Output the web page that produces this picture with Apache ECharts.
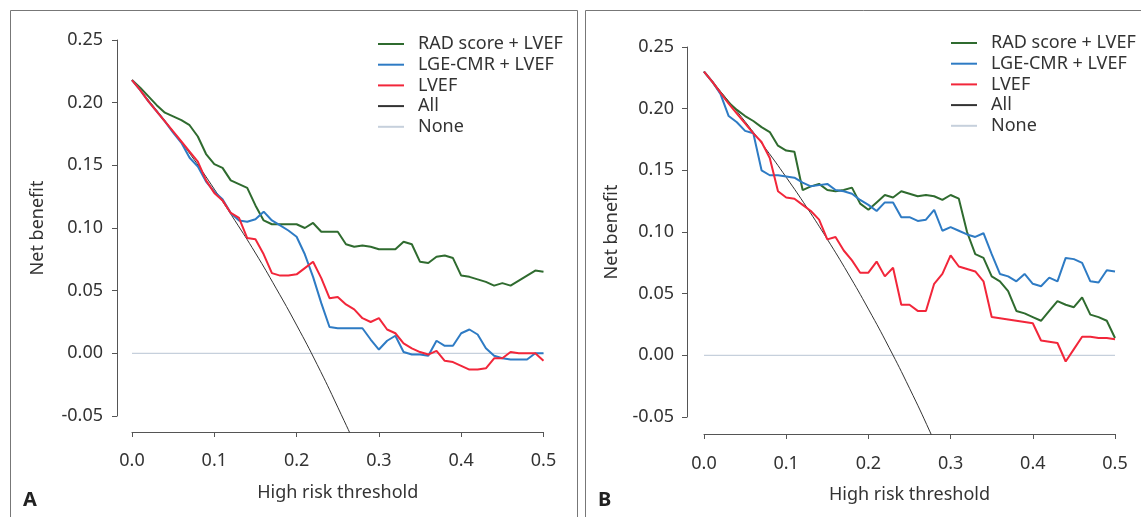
<!DOCTYPE html>
<html>
<head>
<meta charset="utf-8">
<script src="https://cdn.jsdelivr.net/npm/echarts@6/dist/echarts.min.js"></script>
<style>
html,body{margin:0;padding:0;background:#fff;}
#chart{width:1141px;height:517px;}
</style>
</head>
<body>
<div id="chart"></div>
<script>
const seriesNames = ['RAD score + LVEF', 'LGE-CMR + LVEF', 'LVEF', 'All', 'None'];
const xTicks = [0, 0.1, 0.2, 0.3, 0.4, 0.5];
const yTicks = [-0.05, 0, 0.05, 0.10, 0.15, 0.20, 0.25];

const thresholds = [0.00,0.01,0.02,0.03,0.04,0.05,0.06,0.07,0.08,0.09,
  0.10,0.11,0.12,0.13,0.14,0.15,0.16,0.17,0.18,0.19,
  0.20,0.21,0.22,0.23,0.24,0.25,0.26,0.27,0.28,0.29,
  0.30,0.31,0.32,0.33,0.34,0.35,0.36,0.37,0.38,0.39,
  0.40,0.41,0.42,0.43,0.44,0.45,0.46,0.47,0.48,0.49,0.50];
const allThresholds = [0,0.025,0.05,0.075,0.10,0.125,0.15,0.175,0.20,0.225,0.25,0.275,0.30];

// Panel A
const radA = [0.218,0.212,0.205,0.198,0.192,0.189,0.186,0.182,0.173,0.159,
  0.151,0.148,0.138,0.135,0.132,0.118,0.106,0.103,0.103,0.103,
  0.103,0.100,0.104,0.097,0.097,0.097,0.087,0.085,0.086,0.085,
  0.083,0.083,0.083,0.089,0.087,0.073,0.072,0.077,0.078,0.076,
  0.062,0.061,0.059,0.057,0.054,0.056,0.054,0.058,0.062,0.066,0.065];
const lgeA = [0.218,0.210,0.201,0.193,0.185,0.176,0.168,0.156,0.149,0.137,
  0.129,0.123,0.112,0.106,0.105,0.107,0.113,0.106,0.102,0.098,
  0.093,0.079,0.061,0.040,0.021,0.020,0.020,0.020,0.020,0.011,
  0.003,0.010,0.014,0.001,-0.001,-0.001,-0.002,0.010,0.006,0.006,
  0.016,0.019,0.015,0.004,-0.002,-0.004,-0.005,-0.005,-0.005,0.000,0.000];
const lvefA = [0.218,0.210,0.201,0.193,0.185,0.177,0.169,0.161,0.153,0.138,
  0.128,0.122,0.112,0.108,0.092,0.091,0.079,0.064,0.062,0.062,
  0.063,0.068,0.073,0.060,0.044,0.045,0.039,0.035,0.028,0.025,
  0.028,0.019,0.016,0.008,0.004,0.001,-0.001,0.002,-0.006,-0.007,
  -0.010,-0.013,-0.013,-0.012,-0.004,-0.004,0.001,0.000,0.000,0.000,-0.006];
const allA = [0.218,0.198,0.177,0.155,0.131,0.106,0.080,0.052,0.0225,-0.009,-0.043,-0.079,-0.119];

// Panel B
const radB = [0.230,0.222,0.213,0.205,0.199,0.194,0.190,0.185,0.181,0.170,
  0.166,0.165,0.134,0.137,0.139,0.134,0.133,0.134,0.136,0.123,
  0.118,0.124,0.130,0.128,0.133,0.131,0.129,0.130,0.129,0.126,
  0.130,0.127,0.100,0.082,0.079,0.064,0.060,0.052,0.036,0.034,
  0.031,0.028,0.036,0.044,0.041,0.039,0.047,0.033,0.031,0.028,0.014];
const lgeB = [0.230,0.222,0.212,0.194,0.189,0.182,0.180,0.150,0.146,0.146,
  0.145,0.144,0.140,0.137,0.138,0.139,0.134,0.133,0.131,0.126,
  0.122,0.117,0.124,0.124,0.112,0.112,0.109,0.110,0.118,0.101,
  0.104,0.101,0.098,0.096,0.099,0.082,0.066,0.064,0.060,0.066,
  0.058,0.056,0.063,0.060,0.079,0.078,0.075,0.060,0.059,0.069,0.068];
const lvefB = [0.230,0.222,0.213,0.204,0.196,0.188,0.180,0.173,0.160,0.133,
  0.128,0.127,0.122,0.117,0.110,0.094,0.096,0.085,0.077,0.067,
  0.067,0.076,0.064,0.071,0.041,0.041,0.036,0.036,0.058,0.066,
  0.081,0.072,0.070,0.068,0.060,0.031,0.030,0.029,0.028,0.027,
  0.026,0.012,0.011,0.010,-0.005,0.005,0.015,0.015,0.014,0.014,0.013];
const allB = [0.230,0.210,0.1895,0.1676,0.1444,0.120,0.0941,0.0667,0.0375,0.0065,-0.0267,-0.0621,-0.100];
const noneVals = [0, 0];
const noneX = [0, 0.5];

const colors = {
  rad: '#2f6b2f',
  lge: '#2e7bc4',
  lvef: '#f2263a',
  all: '#333333',
  none: '#c6d0dc'
};
const FONT = '"Noto Sans", sans-serif';

function pairs(xs, ys) { return xs.map((x, i) => [x, ys[i]]); }

const chart = echarts.init(document.getElementById('chart'), null, {renderer: 'canvas'});

function axisGrid(left, width, top, height) {
  return {left: left, width: width, top: top, height: height, containLabel: false};
}

const grids = [
  axisGrid(132, 411.5, 40, 376),
  axisGrid(132, 411.5, 40, 392),
  axisGrid(704, 411, 47, 370),
  axisGrid(704, 411, 47, 387)
];

function shownX(gridIndex, offset, labelMargin) {
  return {
    type: 'value', gridIndex: gridIndex, min: 0, max: 0.5, interval: 0.1,
    offset: offset,
    axisLine: {show: true, onZero: false, lineStyle: {color: '#555', width: 1}},
    axisTick: {show: true, length: 5, lineStyle: {color: '#555'}},
    splitLine: {show: false},
    axisLabel: {margin: labelMargin, color: '#333', fontSize: 18, fontFamily: FONT,
      formatter: v => v.toFixed(1)},
    name: 'High risk threshold', nameLocation: 'middle', nameGap: 52,
    nameTextStyle: {color: '#333', fontSize: 18, fontFamily: FONT, verticalAlign: 'top'}
  };
}
function shownY(gridIndex, offset, labelMargin, nameGap) {
  return {
    type: 'value', gridIndex: gridIndex, min: -0.05, max: 0.25, interval: 0.05,
    offset: offset,
    axisLine: {show: true, onZero: false, lineStyle: {color: '#555', width: 1}},
    axisTick: {show: true, length: 5, lineStyle: {color: '#555'}},
    splitLine: {show: false},
    axisLabel: {margin: labelMargin, color: '#333', fontSize: 18, fontFamily: FONT,
      formatter: v => v.toFixed(2)},
    name: 'Net benefit', nameLocation: 'middle', nameGap: nameGap, nameRotate: 90,
    nameTextStyle: {color: '#333', fontSize: 18, fontFamily: FONT}
  };
}
function hiddenX(gridIndex) {
  return {type: 'value', gridIndex: gridIndex, min: 0, max: 0.5, show: false, splitLine: {show: false}};
}
function hiddenY(gridIndex, min) {
  return {type: 'value', gridIndex: gridIndex, min: min, max: 0.25, show: false, splitLine: {show: false}};
}

const xAxes = [shownX(0, 16, 20), hiddenX(1), shownX(2, 17, 21), hiddenX(3)];
const yAxes = [shownY(0, 15, 14, 70), hiddenY(1, -0.0628), shownY(2, 17, 13, 66), hiddenY(3, -0.0638)];

function makeSeries(axisIdx, rad, lge, lvef, all) {
  const base = {type: 'line', xAxisIndex: axisIdx, yAxisIndex: axisIdx, showSymbol: false, symbol: 'none', clip: true, animation: false};
  return [
    Object.assign({}, base, {name: 'None', data: pairs(noneX, noneVals), lineStyle: {color: colors.none, width: 1.2}, itemStyle: {color: colors.none}, z: 1}),
    Object.assign({}, base, {name: 'All', data: pairs(allThresholds, all), smooth: true, lineStyle: {color: colors.all, width: 1}, itemStyle: {color: colors.all}, z: 2}),
    Object.assign({}, base, {name: 'RAD score + LVEF', data: pairs(thresholds, rad), lineStyle: {color: colors.rad, width: 2}, itemStyle: {color: colors.rad}, z: 3}),
    Object.assign({}, base, {name: 'LGE-CMR + LVEF', data: pairs(thresholds, lge), lineStyle: {color: colors.lge, width: 2}, itemStyle: {color: colors.lge}, z: 4}),
    Object.assign({}, base, {name: 'LVEF', data: pairs(thresholds, lvef), lineStyle: {color: colors.lvef, width: 2}, itemStyle: {color: colors.lvef}, z: 5})
  ];
}

function makeLegend(left, top) {
  return {
    orient: 'vertical', left: left, top: top,
    data: seriesNames.map(n => ({name: n, icon: 'rect'})),
    itemWidth: 26, itemHeight: 2, itemGap: 0.7, padding: 0,
    selectedMode: false,
    textStyle: {color: '#333', fontSize: 18, fontFamily: FONT, lineHeight: 20, padding: [0, 0, 0, 9]}
  };
}

const option = {
  backgroundColor: '#fff',
  animation: false,
  grid: grids,
  xAxis: xAxes,
  yAxis: yAxes,
  legend: [makeLegend(378, 34), makeLegend(951, 33)],
  series: [].concat(makeSeries(1, radA, lgeA, lvefA, allA), makeSeries(3, radB, lgeB, lvefB, allB)),
  graphic: [
    {type: 'rect', shape: {x: 10.5, y: 10.5, width: 567, height: 520}, style: {fill: 'none', stroke: '#777', lineWidth: 1}, silent: true},
    {type: 'rect', shape: {x: 585.5, y: 10.5, width: 570, height: 520}, style: {fill: 'none', stroke: '#777', lineWidth: 1}, silent: true},
    {type: 'text', left: 23, top: 490, style: {text: 'A', fontSize: 20, fontWeight: 'bold', fontFamily: FONT, fill: '#222'}},
    {type: 'text', left: 598, top: 490, style: {text: 'B', fontSize: 20, fontWeight: 'bold', fontFamily: FONT, fill: '#222'}}
  ]
};
chart.setOption(option);
</script>
</body>
</html>
